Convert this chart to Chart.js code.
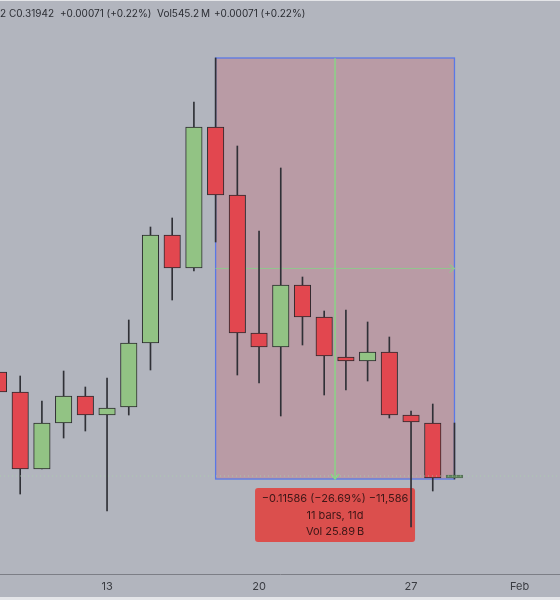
<!DOCTYPE html>
<html>
<head>
<meta charset="utf-8">
<script src="https://cdn.jsdelivr.net/npm/chart.js@4"></script>
<style>
  html, body { margin: 0; padding: 0; background: #e4e5e8; }
  #wrap { position: absolute; left: 0; top: 0; width: 560px; height: 600px; }
</style>
</head>
<body>
<div id="wrap"><canvas id="myChart"></canvas></div>
<script>
// days of January, 32 is 1 Feb
const days  = [8, 9, 10, 11, 12, 13, 14, 15, 16, 17, 18, 19, 20, 21, 22, 23, 24, 25, 26, 27, 28, 29];
const open  = [0.34832, 0.34281, 0.32162, 0.33428, 0.34171, 0.33648, 0.33868, 0.35630, 0.38602, 0.37694, 0.41574, 0.39703, 0.35905, 0.35520, 0.37226, 0.36345, 0.35244, 0.35134, 0.35382, 0.33648, 0.33428, 0.31914];
const close = [0.34281, 0.32162, 0.33428, 0.34171, 0.33648, 0.33841, 0.35630, 0.38602, 0.37694, 0.41574, 0.39703, 0.35905, 0.35520, 0.37226, 0.36345, 0.35272, 0.35134, 0.35382, 0.33648, 0.33456, 0.31914, 0.31997];
const high  = [0.34950, 0.34722, 0.34034, 0.34859, 0.34419, 0.34666, 0.36263, 0.38822, 0.39070, 0.42262, 0.43473, 0.41051, 0.38712, 0.40446, 0.37446, 0.36510, 0.36538, 0.36208, 0.35795, 0.33758, 0.33951, 0.33428];
const low   = [0.33900, 0.31474, 0.32162, 0.33015, 0.33208, 0.31006, 0.33648, 0.34887, 0.36813, 0.37611, 0.38409, 0.34749, 0.34529, 0.33621, 0.35575, 0.34199, 0.34336, 0.34584, 0.33566, 0.30566, 0.31557, 0.31887];

const tickDays = [13, 20, 27, 32];
const tickLabels = ['13', '20', '27', 'Feb'];

// measure tool range
const rangeFrom = 18;
const rangeTo = 29;
const rangeHigh = 0.43473;
const rangeLow = 0.31887;
const lastPrice = 0.31970;

const legendParts = [[0, '2'], [9, 'C0.31942'], [60, '+0.00071 (+0.22%)'], [157, 'Vol545.2\u2009M'], [214, '+0.00071 (+0.22%)']];
const measureLines = ['\u22120.11586 (\u221226.69%) \u221211,586', '11 bars, 11d', 'Vol 25.89\u2009B'];

const upColor = '#92c384';
const downColor = '#e2474f';
const lastColor = '#64895f';
const fontName = 'Inter, "Noto Sans", sans-serif';

function arrowHead(ctx, x, y, dx, dy) {
  ctx.beginPath();
  ctx.moveTo(x - dx * 5 - dy * 4, y - dy * 5 - dx * 4);
  ctx.lineTo(x, y);
  ctx.lineTo(x - dx * 5 + dy * 4, y - dy * 5 + dx * 4);
  ctx.stroke();
}

const background = {
  id: 'background',
  beforeDraw(chart) {
    const ctx = chart.ctx;
    ctx.save();
    ctx.fillStyle = '#b2b5be';
    ctx.fillRect(0, 1, chart.width, 596);
    ctx.restore();
  },
};

// shaded range, cross lines and the red label sit under the candles
const measure = {
  id: 'measure',
  beforeDatasetsDraw(chart) {
    const { ctx, scales: { x, y } } = chart;
    const left = x.getPixelForValue(rangeFrom);
    const right = x.getPixelForValue(rangeTo);
    const top = y.getPixelForValue(rangeHigh);
    const bottom = y.getPixelForValue(rangeLow);
    const midX = (left + right) / 2;
    const midY = (top + bottom) / 2;
    ctx.save();
    ctx.fillStyle = '#b99ba5';
    ctx.fillRect(left, top, right - left, bottom - top);

    ctx.strokeStyle = '#5a78e6';
    ctx.lineWidth = 1.3;
    ctx.strokeRect(left, top, right - left, bottom - top);

    ctx.lineWidth = 1.2;
    ctx.strokeStyle = '#93c48f';
    ctx.beginPath();
    ctx.moveTo(left, midY);
    ctx.lineTo(right, midY);
    ctx.stroke();
    arrowHead(ctx, right, midY, 1, 0);

    ctx.strokeStyle = '#7fe07f';
    ctx.beginPath();
    ctx.moveTo(midX, top);
    ctx.lineTo(midX, bottom);
    ctx.stroke();
    arrowHead(ctx, midX, bottom, 0, 1);

    // label under the range
    const boxTop = bottom + 9;
    ctx.fillStyle = '#db4f4d';
    ctx.beginPath();
    ctx.roundRect(midX - 80, boxTop, 160, 54, 3);
    ctx.fill();
    ctx.fillStyle = '#3d1717';
    ctx.font = '11px ' + fontName;
    ctx.textAlign = 'center';
    ctx.textBaseline = 'middle';
    measureLines.forEach((line, i) => {
      ctx.fillText(line, midX, boxTop + 10.5 + i * 16.7);
    });
    ctx.restore();
  },
  afterDatasetsDraw(chart) {
    const { ctx, chartArea, scales: { y } } = chart;
    const lastY = y.getPixelForValue(lastPrice);
    ctx.save();
    ctx.strokeStyle = 'rgba(170, 215, 170, 0.7)';
    ctx.lineWidth = 1;
    ctx.setLineDash([1, 3]);
    ctx.beginPath();
    ctx.moveTo(chartArea.left, lastY);
    ctx.lineTo(chartArea.right, lastY);
    ctx.stroke();
    ctx.restore();
  },
  afterDraw(chart) {
    const ctx = chart.ctx;
    ctx.save();
    ctx.fillStyle = '#2b2d33';
    ctx.font = '10px ' + fontName;
    ctx.textBaseline = 'middle';
    legendParts.forEach(([px, text]) => ctx.fillText(text, px, 14));
    ctx.restore();
  },
};

const ctx = document.getElementById('myChart');
new Chart(ctx, {
  type: 'bar',
  data: {
    datasets: [
      {
        label: 'wick',
        data: days.map((d, i) => ({ x: d, y: [low[i], high[i]] })),
        backgroundColor: '#2f3036',
        barThickness: 1,
        grouped: false,
        order: 2,
      },
      {
        label: 'body',
        data: days.map((d, i) => ({ x: d, y: [open[i], close[i]] })),
        backgroundColor: days.map((d, i) => i === days.length - 1 ? lastColor : close[i] >= open[i] ? upColor : downColor),
        borderColor: days.map((d, i) => i === days.length - 1 ? '#56705a' : '#2b2a2e'),
        borderWidth: 1,
        borderSkipped: false,
        barThickness: 16.5,
        grouped: false,
        order: 1,
      },
    ],
  },
  plugins: [background, measure],
  options: {
    responsive: true,
    maintainAspectRatio: false,
    animation: false,
    layout: { padding: 0 },
    plugins: { legend: { display: false }, tooltip: { enabled: false }, title: { display: false } },
    scales: {
      x: {
        type: 'linear',
        offset: false,
        min: 8.07,
        max: 33.86,
        afterBuildTicks(scale) { scale.ticks = tickDays.map((value) => ({ value })); },
        afterFit(scale) { scale.height = 26; },
        grid: { display: false, drawTicks: false },
        border: { display: true, color: '#7c7e86', width: 1 },
        ticks: {
          autoSkip: false,
          maxRotation: 0,
          padding: 6,
          color: '#3a3c42',
          font: { family: fontName, size: 11 },
          callback: (value) => tickLabels[tickDays.indexOf(value)],
        },
      },
      y: {
        display: false,
        min: 0.29273,
        max: 0.45069,
      },
    },
  },
});
</script>
</body>
</html>
